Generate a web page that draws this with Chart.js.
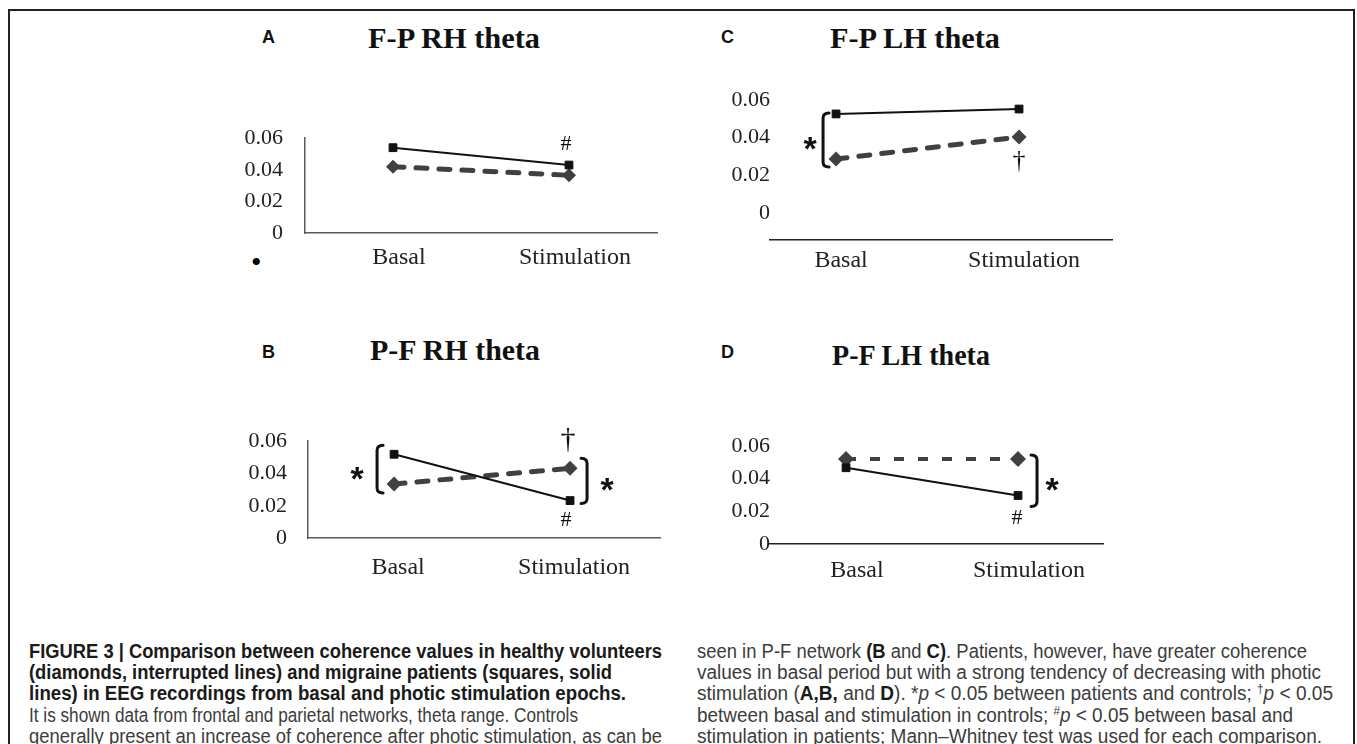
<!DOCTYPE html>
<html>
<head>
<meta charset="utf-8">
<script src="https://cdn.jsdelivr.net/npm/chart.js@4.4.1/dist/chart.umd.min.js"></script>
<style>
	body { margin: 0; background: #fff; width: 1357px; height: 744px; overflow: hidden; position: relative; }
	.frame { position: absolute; left: 8px; top: 9px; width: 1343px; height: 800px; border: 2px solid #222; }
	canvas { position: absolute; }
	.letter { position: absolute; font: bold 18px "Liberation Sans", Arial, sans-serif; color: #111; line-height: 18px; }
	.ttl { position: absolute; font: bold 30px "Liberation Serif", "Times New Roman", serif; color: #111; line-height: 30px; white-space: nowrap; transform-origin: 0 50%; }
	.dot { position: absolute; font: 30px "Liberation Serif", serif; color: #000; line-height: 30px; }
	.ln { position: absolute; white-space: nowrap; font-family: "Liberation Sans", Arial, sans-serif; font-size: 19.5px; line-height: 21px; color: #3c3c3c; transform-origin: 0 50%; }
	.ln.b { font-weight: bold; color: #1a1a1a; }
	.ln b { color: #1a1a1a; }
	sup { font-size: 12px; vertical-align: 7px; line-height: 0; }
</style>
</head>
<body>
<div class="frame"></div>

<div class="letter" style="left:262px;top:28px">A</div>
<div class="ttl" data-w="172" style="left:368px;top:23px">F-P RH theta</div>
<div class="letter" style="left:721px;top:28px">C</div>
<div class="ttl" data-w="170" style="left:830px;top:23px">F-P LH theta</div>
<div class="letter" style="left:262px;top:343px">B</div>
<div class="ttl" data-w="170" style="left:370px;top:335px">P-F RH theta</div>
<div class="letter" style="left:721px;top:343px">D</div>
<div class="ttl" data-w="158" style="left:832px;top:340px">P-F LH theta</div>
<div class="dot" style="left:251px;top:247px">•</div>

<canvas id="pA"></canvas>
<canvas id="pB"></canvas>
<canvas id="pC"></canvas>
<canvas id="pD"></canvas>

<div class="ln b" data-w="633" style="left:29px;top:641px">FIGURE 3 | Comparison between coherence values in healthy volunteers</div>
<div class="ln b" data-w="583" style="left:29px;top:662px">(diamonds, interrupted lines) and migraine patients (squares, solid</div>
<div class="ln b" data-w="597" style="left:29px;top:683px">lines) in EEG recordings from basal and photic stimulation epochs.</div>
<div class="ln" data-w="549" style="left:29px;top:705px">It is shown data from frontal and parietal networks, theta range. Controls</div>
<div class="ln" data-w="633" style="left:29px;top:726px">generally present an increase of coherence after photic stimulation, as can be</div>

<div class="ln" data-w="610" style="left:697px;top:641px">seen in P-F network <b>(B</b> and <b>C)</b>. Patients, however, have greater coherence</div>
<div class="ln" data-w="624" style="left:697px;top:662px">values in basal period but with a strong tendency of decreasing with photic</div>
<div class="ln" data-w="636" style="left:697px;top:683px">stimulation (<b>A,B,</b> and <b>D</b>). *<i>p</i> &lt; 0.05 between patients and controls; <sup>†</sup><i>p</i> &lt; 0.05</div>
<div class="ln" data-w="596" style="left:697px;top:705px">between basal and stimulation in controls; <sup>#</sup><i>p</i> &lt; 0.05 between basal and</div>
<div class="ln" data-w="625" style="left:697px;top:726px">stimulation in patients; Mann–Whitney test was used for each comparison.</div>

<script>
	// ---------------- data ----------------
	const categories = ['Basal', 'Stimulation'];
	const yTicks = [0, 0.02, 0.04, 0.06];

	// squares, solid lines = migraine patients ; diamonds, dashed = controls
	const patientsA = [0.054, 0.043];
	const controlsA = [0.042, 0.0365];
	const patientsB = [0.0519, 0.0232];
	const controlsB = [0.0335, 0.0432];
	const patientsC = [0.0526, 0.0552];
	const controlsC = [0.0287, 0.0404];
	const patientsD = [0.0467, 0.0297];
	const controlsD = [0.0521, 0.0521];
	// ---------------------------------------

	const SERIF = '"Liberation Serif", "Times New Roman", serif';
	const starFont = 'bold 34px "Liberation Sans", Arial, sans-serif';
	const hashFont = '22px ' + SERIF;

	function glyph(ctx, t, cx, cy, font) {
		ctx.font = font;
		ctx.fillStyle = '#111';
		ctx.textAlign = 'center';
		ctx.textBaseline = 'alphabetic';
		const m = ctx.measureText(t);
		ctx.fillText(t, cx, cy + (m.actualBoundingBoxAscent - m.actualBoundingBoxDescent) / 2);
	}

	// significance marks (brackets, *, †, #) placed relative to the plotted points
	const marksPlugin = {
		id: 'marks',
		afterDatasetsDraw(chart, args, opts) {
			const ctx = chart.ctx;
			const pt = (ds, i) => chart.getDatasetMeta(ds).data[i];
			ctx.save();
			(opts.items || []).forEach(m => {
				if (m.type === 'bracket') {
					const a = pt(0, m.i), b = pt(1, m.i);
					const x = a.x + m.dx;
					const top = Math.min(a.y, b.y) + m.top;
					const bot = Math.max(a.y, b.y) + m.bot;
					const s = m.dx < 0 ? 1 : -1;
					ctx.strokeStyle = '#111';
					ctx.lineWidth = 3;
					ctx.lineCap = 'round';
					ctx.lineJoin = 'round';
					ctx.beginPath();
					ctx.moveTo(x + 6 * s, top);
					ctx.quadraticCurveTo(x, top, x, top + 5);
					ctx.lineTo(x, bot - 5);
					ctx.quadraticCurveTo(x, bot, x + 6 * s, bot);
					ctx.stroke();
					glyph(ctx, '*', x + m.star, (top + bot) / 2 + 4, starFont);
				} else {
					const p = pt(m.ds, m.i);
					glyph(ctx, m.text, p.x + m.dx, p.y + m.dy, m.font);
				}
			});
			ctx.restore();
		}
	};

	const panels = [
		{
			id: 'pA', area: { l: 305, r: 657, t: 123, b: 233 }, yMin: 0, yMax: 0.06, xMin: -0.5, xMax: 1.5,
			yBorder: true, axisColor: '#5a5a5a', yPad: 22, xPad: 10, labelOffset: 6, diamond: 7,
			patients: patientsA, controls: controlsA, dash: [11, 12], dashWidth: 5, cap: 'round',
			marks: [{ text: '#', ds: 0, i: 1, dx: -3, dy: -22, font: hashFont }]
		},
		{
			id: 'pB', area: { l: 308, r: 660, t: 427, b: 538 }, yMin: 0, yMax: 0.06, xMin: -0.489, xMax: 1.511,
			yBorder: true, axisColor: '#5a5a5a', yPad: 21, xPad: 15, labelOffset: 4, diamond: 7.5,
			patients: patientsB, controls: controlsB, dash: [11, 12], dashWidth: 5, cap: 'round',
			marks: [
				{ type: 'bracket', i: 0, dx: -17, top: -9, bot: 9, star: -20 },
				{ type: 'bracket', i: 1, dx: 17, top: -10, bot: 3, star: 20 },
				{ text: '†', ds: 1, i: 1, dx: -2, dy: -28, font: '30px ' + SERIF },
				{ text: '#', ds: 0, i: 1, dx: -4, dy: 18, font: hashFont }
			]
		},
		{
			id: 'pC', area: { l: 770, r: 1112, t: 100, b: 240 }, yMin: -0.0143, yMax: 0.06, xMin: -0.361, xMax: 1.508,
			yBorder: false, axisColor: '#222', yPad: 0, xPad: 6, labelOffset: 5, diamond: 7.5,
			patients: patientsC, controls: controlsC, dash: [11, 12], dashWidth: 5, cap: 'round',
			marks: [
				{ type: 'bracket', i: 0, dx: -13, top: -1, bot: 8, star: -13 },
				{ text: '†', ds: 1, i: 1, dx: 0, dy: 25, font: '26px ' + SERIF }
			]
		},
		{
			id: 'pD', area: { l: 770, r: 1103, t: 446, b: 544 }, yMin: 0, yMax: 0.06, xMin: -0.442, xMax: 1.494,
			yBorder: false, axisColor: '#222', yPad: 0, xPad: 12, labelOffset: 11, diamond: 8,
			patients: patientsD, controls: controlsD, dash: [10, 14], dashWidth: 4, cap: 'butt',
			marks: [
				{ type: 'bracket', i: 1, dx: 19, top: -4, bot: 11, star: 15 },
				{ text: '#', ds: 0, i: 1, dx: -1, dy: 22, font: hashFont }
			]
		}
	];

	const Y_W = 110, X_H = 45, PAD_T = 20, PAD_R = 40;

	panels.forEach(p => {
		const cv = document.getElementById(p.id);
		const a = p.area;
		const w = a.r - a.l + Y_W + PAD_R;
		const h = a.b - a.t + PAD_T + X_H;
		cv.width = w;
		cv.height = h;
		cv.style.left = (a.l - Y_W) + 'px';
		cv.style.top = (a.t - PAD_T) + 'px';

		new Chart(cv, {
			type: 'line',
			data: {
				datasets: [
					{
						label: 'Patients',
						data: p.patients.map((v, i) => ({ x: i, y: v })),
						borderColor: '#111',
						borderWidth: 2,
						pointStyle: 'rect',
						pointRadius: 5.5,
						pointBackgroundColor: '#111',
						pointBorderColor: '#111',
						pointBorderWidth: 1,
						clip: false
					},
					{
						label: 'Controls',
						data: p.controls.map((v, i) => ({ x: i, y: v })),
						borderColor: '#404040',
						borderWidth: p.dashWidth,
						borderDash: p.dash,
						borderCapStyle: p.cap,
						pointStyle: 'rectRot',
						pointRadius: p.diamond,
						pointBackgroundColor: '#404040',
						pointBorderColor: '#404040',
						pointBorderWidth: 0,
						clip: false
					}
				]
			},
			options: {
				responsive: false,
				animation: false,
				devicePixelRatio: 1,
				layout: { padding: { top: PAD_T, right: PAD_R, left: 0, bottom: 0 } },
				plugins: {
					legend: { display: false },
					tooltip: { enabled: false },
					marks: { items: p.marks }
				},
				scales: {
					x: {
						type: 'linear',
						min: p.xMin,
						max: p.xMax,
						afterBuildTicks: s => { s.ticks = categories.map((c, i) => ({ value: i })); },
						afterFit: s => { s.height = X_H; },
						grid: { display: false, drawTicks: false },
						border: { display: true, color: p.axisColor, width: 1.5 },
						ticks: {
							callback: v => categories[v],
							font: { family: SERIF, size: 24 },
							color: '#222',
							padding: p.xPad,
							labelOffset: p.labelOffset,
							maxRotation: 0
						}
					},
					y: {
						min: p.yMin,
						max: p.yMax,
						afterBuildTicks: s => { s.ticks = yTicks.map(v => ({ value: v })); },
						afterFit: s => { s.width = Y_W; },
						grid: { display: false, drawTicks: false },
						border: { display: p.yBorder, color: p.axisColor, width: 1.5 },
						ticks: {
							callback: v => v === 0 ? '0' : v.toFixed(2),
							font: { family: SERIF, size: 22 },
							color: '#222',
							padding: p.yPad
						}
					}
				}
			},
			plugins: [marksPlugin]
		});
	});

	// squeeze caption and title lines to the widths they have in the figure
	document.querySelectorAll('[data-w]').forEach(el => {
		const w = el.getBoundingClientRect().width;
		el.style.transform = 'scaleX(' + (+el.dataset.w / w).toFixed(4) + ')';
	});
</script>
</body>
</html>
